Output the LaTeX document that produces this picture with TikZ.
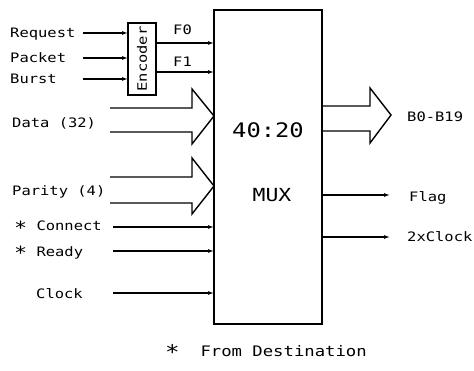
\documentclass[tikz,border=0pt]{standalone}
\usepackage{fontspec}
\usepackage{graphicx}
\newfontfamily\plotfont[FakeStretch=1.19]{DejaVu Sans Mono}
\newcommand{\plotstar}{\raisebox{-3.2pt}{\scalebox{1.4}{*}}}
\usetikzlibrary{arrows.meta}
\begin{document}
\begin{tikzpicture}[x=1pt,y=-1pt,
  lbl/.style={font=\plotfont\fontsize{13}{15}\selectfont, inner sep=0pt, anchor=base west},
  big/.style={font=\plotfont\fontsize{20}{23}\selectfont, inner sep=0pt},
  sig/.style={line width=1.1pt, -{Latex[length=6pt,width=4pt]}},
  bus/.style={line width=1.4pt, line join=miter},
  box/.style={draw, line width=1.8pt, inner sep=0pt, outer sep=0pt}]
\useasboundingbox (0,0) rectangle (474,371);
% blocks
\node[box, minimum width=108pt, minimum height=314pt] (mux) at (268,167) {};
\node[box, line width=1.4pt, minimum width=28pt, minimum height=72pt] (enc) at (142,59) {};
\node[lbl, anchor=center, rotate=90] (enctext) at (enc.center) {Encoder};
\node[big] (ratio) at (268,130) {40:20};
\node[big, font=\plotfont\fontsize{18}{21}\selectfont] (muxt) at (272,195) {MUX};
% encoder inputs
\node[lbl] (req) at (10,37.5) {Request};
\node[lbl] (pkt) at (10,62.5) {Packet};
\node[lbl] (bst) at (10,84) {Burst};
\coordinate (reqs) at (83,33);
\coordinate (pkts) at (83,58);
\coordinate (bsts) at (83,79);
\draw[sig] (reqs) -- (enc.west |- reqs);
\draw[sig] (pkts) -- (enc.west |- pkts);
\draw[sig] (bsts) -- (enc.west |- bsts);
% encoder outputs
\coordinate (f0) at (142,43);
\coordinate (f1) at (142,72);
\draw[sig] (enc.east |- f0) -- (mux.west |- f0);
\draw[sig] (enc.east |- f1) -- (mux.west |- f1);
\node[lbl] (f0t) at (173,35) {F0};
\node[lbl] (f1t) at (173,66.5) {F1};
% bus inputs
\node[lbl] (data) at (12,128) {Data (32)};
\node[lbl] (par) at (12,196) {Parity (4)};
\draw[bus] (110,108) -- (192,108) -- (192,89) -- (214,116) -- (192,144) -- (192,132) -- (110,132);
\draw[bus] (110,177) -- (192,177) -- (192,158) -- (214,186) -- (192,214) -- (192,203) -- (110,203);
% single inputs
\node[lbl] (con) at (14,231) {\plotstar\ Connect};
\node[lbl] (rdy) at (14,256.5) {\plotstar\ Ready};
\node[lbl] (clk) at (36,299) {Clock};
\coordinate (cons) at (113,227);
\coordinate (rdys) at (113,251);
\coordinate (clks) at (113,293);
\draw[sig] (cons) -- (mux.west |- cons);
\draw[sig] (rdys) -- (mux.west |- rdys);
\draw[sig] (clks) -- (mux.west |- clks);
% outputs
\draw[bus] (322,106) -- (370,106) -- (370,88) -- (391,115) -- (370,143) -- (370,131) -- (322,131);
\node[lbl] (bout) at (407,121.5) {B0-B19};
\coordinate (flage) at (390,195);
\coordinate (clk2e) at (390,237);
\draw[sig] (mux.east |- flage) -- (flage);
\draw[sig] (mux.east |- clk2e) -- (clk2e);
\node[lbl] (flag) at (409,201.5) {Flag};
\node[lbl] (clk2) at (407,241.5) {2xClock};
% footnote
\node[lbl, font=\plotfont\fontsize{14.5}{17}\selectfont] (note) at (165,356.5) {\plotstar\ \ From Destination};
\end{tikzpicture}
\end{document}
